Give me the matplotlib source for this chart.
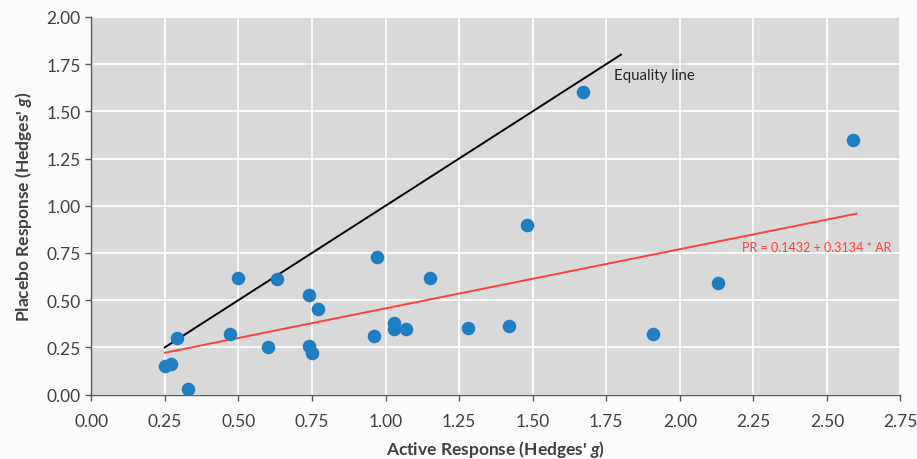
import numpy as np
import matplotlib.pyplot as plt

plt.rcParams['font.family'] = ['Lato', 'DejaVu Sans']
plt.rcParams['mathtext.fontset'] = 'custom'
plt.rcParams['mathtext.bfit'] = 'Lato:italic:bold'
plt.rcParams['mathtext.it'] = 'Lato:italic'

# study-level effect sizes
active = [0.25, 0.27, 0.29, 0.33, 0.47, 0.50, 0.60, 0.63, 0.74, 0.77, 0.74, 0.75,
          0.97, 0.96, 1.03, 1.03, 1.07, 1.15, 1.28, 1.42, 1.48, 1.67, 1.91, 2.13, 2.59]
placebo = [0.15, 0.16, 0.30, 0.03, 0.32, 0.62, 0.25, 0.61, 0.525, 0.455, 0.26, 0.22,
           0.73, 0.31, 0.38, 0.345, 0.35, 0.62, 0.355, 0.365, 0.90, 1.60, 0.32, 0.59, 1.35]

eq_x = [0.25, 1.80]
reg_intercept = 0.1432
reg_slope = 0.3134
reg_x = np.array([0.25, 2.60])

xticks = np.arange(0, 2.76, 0.25)
yticks = np.arange(0, 2.01, 0.25)

fig = plt.figure(figsize=(9.17, 4.6), dpi=100, facecolor='#fbfbfb')
ax = fig.add_axes([0.0995, 0.140, 0.8825, 0.821])
ax.set_facecolor('#d9d9d9')

ax.set_xlim(0, 2.75)
ax.set_ylim(0, 2.0)
ax.set_xticks(xticks)
ax.set_yticks(yticks)
ax.set_xticklabels([f'{t:.2f}' for t in xticks])
ax.set_yticklabels([f'{t:.2f}' for t in yticks])
ax.grid(color='white', linewidth=1.2)
ax.set_axisbelow(True)

for s in ['top', 'right']:
    ax.spines[s].set_visible(False)
for s in ['left', 'bottom']:
    ax.spines[s].set_color('#595959')
    ax.spines[s].set_linewidth(1.0)
ax.tick_params(colors='#595959', labelcolor='#404040', labelsize=12.5, length=4, width=1)
ax.tick_params(axis='x', pad=9)

ax.plot(eq_x, eq_x, color='black', linewidth=1.4, zorder=2)
ax.plot(reg_x, reg_intercept + reg_slope * reg_x, color='#ff4040', linewidth=1.4, zorder=2)
ax.scatter(active, placebo, s=95, color='#1f7dc2', zorder=3, linewidths=0)

ax.text(1.775, 1.69, 'Equality line', fontsize=10.8, color='#262626', va='center')
ax.text(2.21, 0.78, 'PR = 0.1432 + 0.3134 * AR', fontsize=9, color='#ff4040', va='center')

ax.set_xlabel("Active Response (Hedges' $\\mathbfit{g}$)", fontsize=12.5, fontweight='bold',
              color='#404040', labelpad=7)
ax.set_ylabel("Placebo Response (Hedges' $\\mathbfit{g}$)", fontsize=12.5, fontweight='bold',
              color='#404040', labelpad=9)

fig.savefig('out.png', dpi=100, facecolor=fig.get_facecolor())
